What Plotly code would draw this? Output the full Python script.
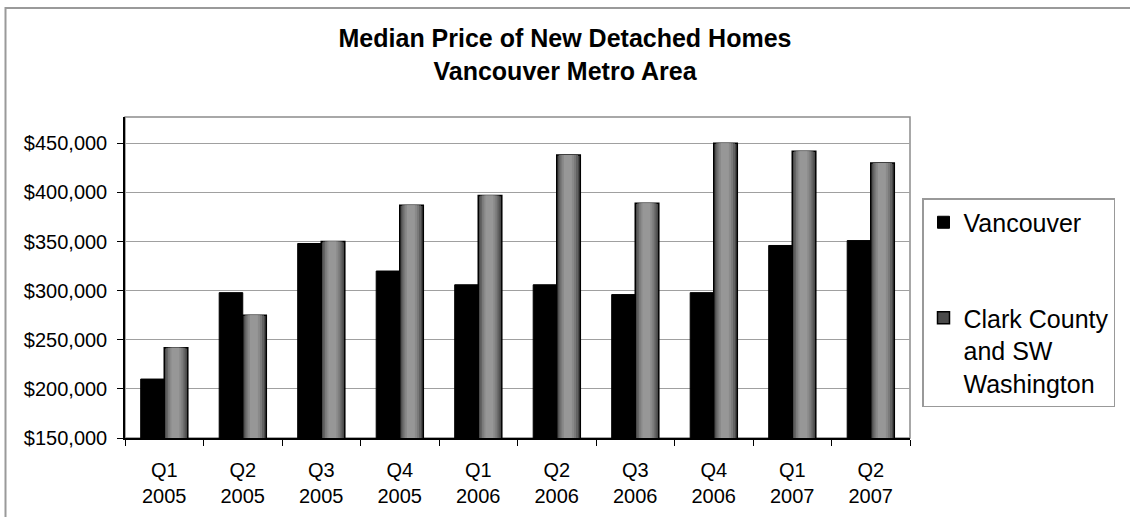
import plotly.graph_objects as go

quarters = ["Q1", "Q2", "Q3", "Q4", "Q1", "Q2", "Q3", "Q4", "Q1", "Q2"]
years = ["2005", "2005", "2005", "2005", "2006", "2006", "2006", "2006", "2007", "2007"]
vancouver = [210000, 298000, 348000, 320000, 306000, 306000, 296000, 298000, 346000, 351000]
clark = [242000, 275000, 350000, 387000, 397000, 438000, 389000, 450000, 442000, 430000]

categories = [f"{q}<br>{y}" for q, y in zip(quarters, years)]

FONT = "Liberation Sans, Arial, sans-serif"
W = 0.3

fig = go.Figure()
fig.add_trace(go.Bar(
    x=categories, y=vancouver, name="Vancouver",
    offset=-W, width=W,
    marker=dict(color="#000000", line=dict(color="#000000", width=1)),
    legendgroup="a",
))
# Clark County bars: base + narrower lighter layers to mimic the cylinder gradient
fig.add_trace(go.Bar(
    x=categories, y=clark, name="Clark County<br>and SW<br>Washington",
    offset=0, width=W,
    marker=dict(color="#4a4a4a", line=dict(color="#000000", width=1.5)),
    legendgroup="b",
))
layers = [(0.82, "#626262"), (0.66, "#7a7a7a"), (0.5, "#8a8a8a"), (0.34, "#979797")]
for frac, col in layers:
    w = W * frac
    fig.add_trace(go.Bar(
        x=categories, y=clark, showlegend=False,
        offset=W / 2 - w / 2 - 0.012 * (1 - frac), width=w,
        marker=dict(color=col, line=dict(width=0)),
        hoverinfo="skip", legendgroup="b",
    ))

fig.update_layout(
    width=1130, height=517,
    barmode="overlay",
    paper_bgcolor="white", plot_bgcolor="white",
    margin=dict(l=125, r=220, t=117, b=79, autoexpand=False),
    font=dict(family=FONT, color="#000000", size=20),
    title=dict(
        text="<b>Median Price of New Detached Homes<br>Vancouver Metro Area</b>",
        x=0.5, xanchor="center", xref="container",
        y=1 - 47 / 517, yanchor="top", yref="container",
        font=dict(family=FONT, size=25, color="#000000"),
    ),
    showlegend=True,
    legend=dict(
        x=(922 - 125) / 785, xanchor="left",
        y=(438 - 198) / 321, yanchor="top",
        bgcolor="white", bordercolor="#999999", borderwidth=1.5,
        font=dict(family=FONT, size=25, color="#000000"),
        valign="top", tracegroupgap=60,
        traceorder="grouped",
    ),
    shapes=[
        dict(type="rect", xref="paper", yref="paper",
             x0=(5.5 - 125) / 785, x1=1.4, y0=-0.5, y1=(438 - 8) / 321,
             line=dict(color="#9a9a9a", width=2), layer="below"),
        dict(type="rect", xref="paper", yref="paper",
             x0=0, x1=1, y0=0, y1=1,
             line=dict(color="#8c8c8c", width=1.5), layer="below"),
    ],
)

fig.update_xaxes(
    showline=True, linecolor="#000000", linewidth=1.5,
    ticks="outside", tickson="boundaries", ticklen=6, tickcolor="#000000",
    showgrid=False, tickfont=dict(size=20), ticklabelstandoff=13,
)
fig.update_yaxes(
    range=[150000, 476800], dtick=50000, tick0=150000,
    tickformat="$,.0f",
    showline=True, linecolor="#000000", linewidth=1.5,
    ticks="outside", ticklen=6, tickcolor="#000000",
    showgrid=True, gridcolor="#a0a0a0", gridwidth=1,
    ticklabelstandoff=6, tickfont=dict(size=20),
    zeroline=False,
)

fig.write_html("out.html", config={"displayModeBar": False},
               post_script="document.body.style.margin='0';")
